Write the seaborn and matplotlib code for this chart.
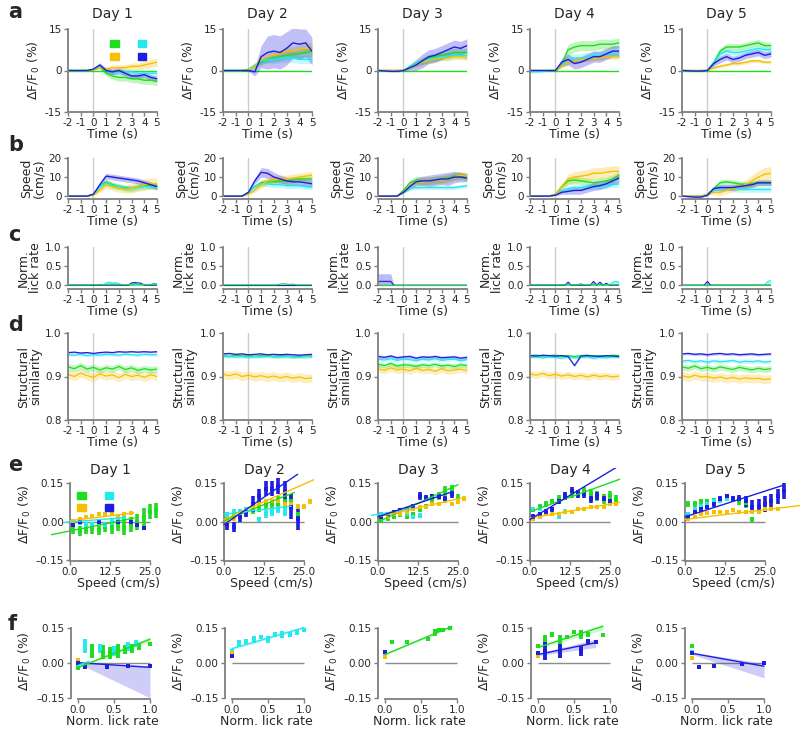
import numpy as np
import matplotlib
matplotlib.use('Agg')
import matplotlib.pyplot as plt
import seaborn as sns
from matplotlib.patches import Patch

sns.set_style('ticks')
plt.rcParams['font.family'] = ['DejaVu Sans']
plt.rcParams['axes.unicode_minus'] = False

GREEN = '#1fdc1f'
CYAN = '#22e8f0'
YELLOW = '#f5c000'
BLUE = '#1e1ee0'
SPINE = '#7f7f7f'

DAYS = ['Day 1', 'Day 2', 'Day 3', 'Day 4', 'Day 5']

# ---------------- row a: dF/F0 (%) vs time ----------------
T = [-2, -1, -0.5, 0, 0.5, 1, 1.5, 2, 2.5, 3, 3.5, 4, 4.5, 5]

dff_green = [
    [0, 0, 0, 0.3, 1.2, -1.0, -2.0, -2.5, -2.5, -3.0, -3.0, -3.5, -3.5, -4.0],
    [0, 0, 0, 0.3, 1.5, 3.0, 4.0, 4.5, 5.0, 5.5, 6.0, 6.0, 6.5, 7.0],
    [0, 0, 0, 0, 1.5, 2.5, 3.5, 4.5, 5.0, 5.5, 6.0, 6.5, 6.5, 6.5],
    [0, 0, 0, 0, 2.5, 7.5, 8.5, 9.0, 9.0, 9.0, 9.5, 9.5, 9.5, 10.0],
    [0, -0.2, 0, 0, 3.0, 7.0, 8.5, 8.5, 8.5, 9.0, 9.5, 10.0, 9.0, 9.0]]
dff_green_sem = [
    [0, 0, 0, 0.2, 0.5, 1.0, 1.2, 1.3, 1.3, 1.4, 1.5, 1.5, 1.5, 1.5],
    [0, 0, 0, 0.2, 0.6, 1.0, 1.2, 1.3, 1.4, 1.5, 1.6, 1.7, 1.8, 1.8],
    [0, 0, 0, 0.2, 0.5, 1.0, 1.2, 1.3, 1.4, 1.5, 1.5, 1.5, 1.5, 1.5],
    [0, 0, 0, 0.2, 1.0, 2.0, 1.8, 1.8, 1.8, 1.8, 1.8, 1.8, 1.8, 1.8],
    [0, 0, 0, 0.2, 1.0, 1.2, 1.2, 1.2, 1.2, 1.2, 1.2, 1.2, 1.2, 1.2]]
dff_cyan = [
    [0, 0, 0, 0.3, 1.5, 0.0, -0.5, -0.5, -0.5, -0.5, -1.0, -1.0, -1.0, -1.0],
    [0, 0, 0, 0.5, 2.0, 3.5, 4.0, 4.0, 4.5, 4.5, 4.5, 4.0, 4.0, 4.0],
    [0, 0, 0, 0, 1.5, 2.5, 3.5, 4.0, 4.5, 5.0, 5.0, 5.5, 5.5, 5.5],
    [-0.5, -0.3, 0, 0, 2.5, 4.0, 4.5, 4.5, 5.0, 5.5, 5.5, 6.0, 6.0, 6.0],
    [0, 0, 0, 0, 3.0, 6.0, 7.0, 6.5, 6.5, 7.0, 7.5, 8.0, 7.5, 7.5]]
dff_cyan_sem = [
    [0, 0, 0, 0.2, 0.5, 0.8, 1.0, 1.0, 1.0, 1.0, 1.0, 1.0, 1.0, 1.0],
    [0, 0, 0, 0.2, 0.8, 1.0, 1.2, 1.5, 1.5, 1.5, 1.5, 1.5, 1.5, 1.5],
    [0, 0, 0, 0.2, 0.8, 1.0, 1.2, 1.2, 1.3, 1.3, 1.3, 1.3, 1.3, 1.3],
    [0.4, 0.3, 0.2, 0.2, 1.0, 1.5, 1.5, 1.5, 1.5, 1.5, 1.5, 1.5, 1.5, 1.5],
    [0, 0, 0, 0.2, 0.8, 1.0, 1.0, 1.0, 1.0, 1.0, 1.0, 1.0, 1.0, 1.0]]
dff_yellow = [
    [0, 0, 0, 0.3, 1.0, 0.5, 1.0, 1.0, 1.0, 1.5, 1.5, 2.0, 2.5, 3.0],
    [0, 0, 0, 0.3, 1.5, 4.0, 5.0, 5.5, 6.0, 7.0, 7.0, 7.5, 8.0, 8.0],
    [0, 0, 0, 0, 1.0, 2.0, 3.0, 3.5, 4.0, 4.5, 4.5, 5.0, 5.0, 4.5],
    [0, 0, 0, 0, 1.5, 3.0, 3.5, 4.0, 4.0, 4.5, 4.5, 5.0, 5.0, 5.0],
    [0, 0, 0, 0, 1.0, 1.5, 2.0, 2.5, 2.5, 3.0, 3.5, 3.5, 3.0, 3.0]]
dff_yellow_sem = [
    [0, 0, 0, 0.2, 0.5, 0.8, 1.0, 1.0, 1.2, 1.2, 1.3, 1.4, 1.5, 1.5],
    [0, 0, 0, 0.2, 0.6, 1.0, 1.2, 1.3, 1.4, 1.5, 1.6, 1.7, 1.8, 2.0],
    [0, 0, 0, 0.2, 0.5, 0.8, 1.0, 1.0, 1.0, 1.0, 1.0, 1.0, 1.0, 1.0],
    [0, 0, 0, 0.2, 0.6, 1.0, 1.0, 1.0, 1.0, 1.0, 1.0, 1.0, 1.0, 1.0],
    [0, 0, 0, 0.2, 0.5, 0.6, 0.6, 0.6, 0.6, 0.6, 0.6, 0.6, 0.6, 0.6]]
dff_blue = [
    [0, 0, 0, 0.5, 2.0, 0.0, -0.5, 0.0, -1.0, -2.0, -2.0, -1.5, -2.5, -3.0],
    [0, 0, 0, 0, -0.5, 5.0, 6.5, 7.0, 6.5, 8.0, 10.0, 9.5, 10.0, 7.0],
    [0, -0.3, -0.3, 0, 1.0, 2.0, 3.5, 5.0, 5.5, 6.5, 7.5, 8.5, 8.0, 9.0],
    [0, 0, 0, 0, 3.0, 4.0, 2.5, 3.0, 4.0, 5.0, 5.0, 6.0, 7.0, 7.0],
    [0, -0.2, -0.2, 0, 2.5, 4.0, 5.0, 4.0, 4.5, 5.5, 6.0, 6.5, 5.5, 6.0]]
dff_blue_sem = [
    [0, 0, 0, 0.3, 0.8, 1.0, 1.0, 1.0, 1.0, 1.0, 1.0, 1.0, 1.0, 1.0],
    [0, 0, 0, 0.3, 1.5, 4.0, 6.0, 6.0, 6.0, 6.0, 5.5, 5.5, 5.0, 5.0],
    [0, 0.2, 0.2, 0.3, 1.0, 2.0, 2.5, 2.5, 2.5, 2.5, 2.5, 2.5, 2.5, 2.5],
    [0.3, 0.2, 0.2, 0.3, 1.5, 2.0, 2.0, 2.0, 2.0, 2.0, 2.0, 2.0, 2.0, 2.0],
    [0, 0.2, 0.2, 0.3, 1.0, 1.2, 1.2, 1.2, 1.2, 1.2, 1.2, 1.2, 1.2, 1.2]]

# ---------------- row b: speed (cm/s) ----------------
spd_green = [
    [0, 0, 0, 1, 5, 7.5, 6, 5, 4.5, 4, 5, 5.5, 5.5, 5.5],
    [0, 0, 0, 2, 5, 7, 7.5, 7.5, 8, 8, 8.5, 9, 9, 9],
    [0, 0, 0, 3, 7, 8.5, 8, 8, 8.5, 9, 9.5, 10.5, 10.5, 10],
    [0, 0, 0, 1, 5, 8, 8.5, 8, 7.5, 7, 7.5, 8, 9, 11],
    [0, 0, 0, 1, 4, 7, 7.5, 7, 6.5, 6, 6.5, 7, 7, 7]]
spd_green_sem = [
    [0, 0, 0, 0.3, 1, 1.5, 1.5, 1.5, 1.5, 1.5, 1.5, 1.5, 1.5, 1.5],
    [0, 0, 0, 0.3, 1, 1.5, 1.5, 1.5, 1.5, 1.5, 1.5, 1.5, 1.5, 1.5],
    [0, 0, 0, 0.5, 1.5, 2, 2, 2, 2, 2, 2, 2, 2, 2],
    [0, 0, 0, 0.5, 1.5, 2, 2, 2, 2, 2, 2, 2, 2, 2],
    [0, 0, 0, 0.3, 1, 1.5, 1.5, 1.5, 1.5, 1.5, 1.5, 1.5, 1.5, 1.5]]
spd_cyan = [
    [0, 0, 0, 1, 5, 7, 5.5, 5, 4, 4, 4.5, 5, 5, 4.5],
    [0, 0, 0, 2, 5, 6.5, 6.5, 6, 6, 5.5, 5.5, 5.5, 5, 5],
    [0, 0, 0, 2, 4, 4.5, 4.5, 4.5, 4.5, 4.5, 4.5, 4.5, 5, 5.5],
    [0, 0, 0, 1, 3, 4, 4.5, 4.5, 5, 5, 5, 5.5, 6, 6.5],
    [0, 0, 0, 0.5, 3, 4, 4.5, 4, 3.5, 3.5, 3.5, 3.5, 3.5, 3.5]]
spd_cyan_sem = [
    [0, 0, 0, 0.3, 1, 1.5, 1.5, 1.5, 1.5, 1.5, 1.5, 1.5, 1.5, 1.5],
    [0, 0, 0, 0.3, 1, 1.5, 1.5, 1.5, 1.5, 1.5, 1.5, 1.5, 1.5, 1.5],
    [0, 0, 0, 0.3, 1, 1, 1, 1, 1, 1, 1, 1, 1, 1],
    [0, 0, 0, 0.3, 1, 1.5, 1.5, 1.5, 1.5, 1.5, 1.5, 1.5, 1.5, 1.5],
    [0, 0, 0, 0.3, 1, 1.5, 1.5, 1.5, 1.5, 1.5, 1.5, 1.5, 1.5, 1.5]]
spd_yellow = [
    [0, 0, 0, 0.5, 3, 6, 5, 4, 3.5, 4, 5, 6, 6.5, 6.5],
    [0, 0, 0, 1, 3, 6, 8, 8.5, 9, 9, 9.5, 10, 10.5, 11],
    [0, 0, 0, 2, 5, 7.5, 7.5, 8, 8.5, 8.5, 9, 10, 11, 10.5],
    [0, 0, 0, 1, 5, 9, 10, 10.5, 11, 12, 12, 12.5, 13, 13],
    [0, 0, 0, 1, 2, 2, 3, 4, 5, 6, 8, 10, 11.5, 12]]
spd_yellow_sem = [
    [0, 0, 0, 0.3, 1, 2, 2, 2, 2, 2.5, 2.5, 3, 3, 3],
    [0, 0, 0, 0.3, 1, 2, 2, 2, 2, 2, 2, 2, 2, 2],
    [0, 0, 0, 0.5, 1.5, 2, 2, 2, 2, 2, 2, 2, 2, 2],
    [0, 0, 0, 0.5, 1.5, 2.5, 3, 3, 3, 3, 3, 3, 3, 3],
    [0, 0, 0, 0.3, 1, 1.5, 1.5, 2, 2, 2.5, 3, 3.5, 3.5, 3.5]]
spd_blue = [
    [0, 0, 0, 1, 6, 10.5, 10, 9.5, 9, 8.5, 8, 7, 6, 5],
    [0, 0, 0, 2, 8, 12.5, 12, 10, 9, 8, 7.5, 7.5, 7, 6.5],
    [0, 0, 0, 2, 5, 7.5, 8, 8, 8.5, 9, 9, 10, 10, 9.5],
    [0, 0, 0, 0.5, 2, 2.5, 3, 3, 4, 5, 5.5, 6.5, 8, 9.5],
    [0, -0.5, -0.5, 0.5, 4, 4.5, 4.5, 4.5, 5, 5.5, 6, 7, 7, 7]]
spd_blue_sem = [
    [0, 0, 0, 0.3, 1, 1.5, 1.5, 1.5, 1.5, 1.5, 1.5, 1.5, 1.5, 1.5],
    [0, 0, 0, 0.5, 1.5, 2.5, 2.5, 2.5, 2, 2, 2, 2, 2, 2],
    [0, 0, 0, 0.5, 1.5, 2, 2.5, 3, 3, 3, 3.5, 3, 2.5, 2],
    [0, 0, 0, 0.3, 1, 1.5, 2, 2, 2, 2, 2, 2, 2, 2],
    [0, 0.3, 0.3, 0.3, 1, 1.5, 1.5, 1.5, 1.5, 1.5, 1.5, 1.5, 1.5, 1.5]]

# ---------------- row c: normalised lick rate ----------------
TL = [-2, -1.75, -1.5, -1.25, -1, -0.75, -0.5, -0.25, 0, 0.25, 0.5, 0.75, 1, 1.25, 1.5,
      1.75, 2, 2.25, 2.5, 2.75, 3, 3.25, 3.5, 3.75, 4, 4.25, 4.5, 4.75, 5]
lick_green = [
    [0.01, 0.01, 0.01, 0.01, 0.01, 0.01, 0.01, 0.01, 0.02, 0.01, 0.02, 0.01, 0.02, 0.02, 0.03,
     0.02, 0.02, 0.02, 0.01, 0.02, 0.01, 0.04, 0.04, 0.01, 0.02, 0.01, 0.02, 0.04, 0.02],
    [0.01, 0.01, 0.01, 0.01, 0.01, 0.01, 0.01, 0.01, 0.01, 0.01, 0.01, 0.01, 0.01, 0.01, 0.01,
     0.01, 0.01, 0.01, 0.03, 0.04, 0.03, 0.02, 0.03, 0.01, 0.01, 0.01, 0.01, 0.01, 0.01],
    [0.01, 0.01, 0.01, 0.01, 0.01, 0.01, 0.01, 0.01, 0.01, 0.01, 0.01, 0.01, 0.01, 0.01, 0.01,
     0.01, 0.01, 0.01, 0.01, 0.01, 0.01, 0.01, 0.01, 0.01, 0.01, 0.01, 0.01, 0.01, 0.01],
    [0.01, 0.01, 0.01, 0.01, 0.01, 0.01, 0.01, 0.01, 0.01, 0.01, 0.01, 0.01, 0.01, 0.01, 0.01,
     0.01, 0.04, 0.01, 0.01, 0.01, 0.01, 0.03, 0.01, 0.01, 0.01, 0.01, 0.01, 0.01, 0.01],
    [0.01, 0.01, 0.01, 0.01, 0.01, 0.01, 0.01, 0.01, 0.01, 0.01, 0.01, 0.01, 0.01, 0.01, 0.01,
     0.01, 0.01, 0.01, 0.01, 0.01, 0.01, 0.01, 0.01, 0.01, 0.01, 0.01, 0.01, 0.01, 0.01]]
lick_cyan = [
    [0, 0, 0, 0, 0, 0, 0, 0, 0, 0, 0, 0, 0.06, 0.08, 0.05, 0.07, 0.04, 0, 0, 0, 0, 0, 0, 0, 0, 0, 0, 0.05, 0.04],
    [0, 0, 0, 0, 0, 0, 0, 0, 0, 0, 0, 0, 0, 0, 0, 0, 0, 0, 0, 0, 0, 0, 0, 0, 0, 0, 0, 0, 0],
    [0, 0, 0, 0, 0, 0, 0, 0, 0, 0, 0, 0, 0, 0, 0, 0, 0, 0, 0, 0, 0, 0, 0, 0, 0, 0, 0, 0, 0],
    [0, 0, 0, 0, 0, 0, 0, 0, 0, 0, 0, 0, 0, 0, 0, 0, 0, 0, 0, 0, 0, 0, 0, 0, 0, 0, 0.08, 0.1, 0.08],
    [0, 0, 0, 0, 0, 0, 0, 0, 0, 0, 0, 0, 0, 0, 0, 0, 0, 0, 0, 0, 0, 0, 0, 0, 0, 0, 0, 0.1, 0.12]]
lick_blue = [
    [0, 0, 0, 0, 0, 0, 0, 0, 0, 0, 0, 0, 0, 0, 0, 0, 0, 0, 0, 0, 0.06, 0.07, 0.06, 0.05, 0, 0, 0, 0, 0],
    [0, 0, 0, 0, 0, 0, 0, 0, 0, 0, 0, 0, 0, 0, 0, 0, 0, 0, 0, 0, 0, 0, 0, 0, 0, 0, 0, 0, 0],
    [0.1, 0.1, 0.1, 0.1, 0.1, 0, 0, 0, 0, 0, 0, 0, 0, 0, 0, 0, 0, 0, 0, 0, 0, 0, 0, 0, 0, 0, 0, 0, 0],
    [0, 0, 0, 0, 0, 0, 0, 0, 0, 0, 0, 0, 0.08, 0, 0, 0, 0, 0, 0, 0, 0.1, 0, 0.08, 0, 0.05, 0, 0, 0, 0],
    [0, 0, 0, 0, 0, 0, 0, 0, 0.1, 0, 0, 0, 0, 0, 0, 0, 0, 0, 0, 0, 0, 0, 0, 0, 0, 0, 0, 0, 0]]
lick_blue_day3_hi = [0.3, 0.3, 0.3, 0.3, 0.3, 0, 0, 0, 0, 0, 0, 0, 0, 0, 0,
                     0, 0, 0, 0, 0, 0, 0, 0, 0, 0, 0, 0, 0, 0]

# ---------------- row d: structural similarity ----------------
TD = [-2, -1.5, -1, -0.5, 0, 0.5, 1, 1.5, 2, 2.5, 3, 3.5, 4, 4.5, 5]
sim_blue = [
    [.955, .956, .954, .955, .953, .955, .956, .955, .957, .956, .957, .956, .957, .956, .957],
    [.952, .953, .951, .952, .950, .951, .952, .950, .951, .950, .951, .950, .949, .950, .951],
    [.946, .944, .947, .943, .945, .946, .942, .945, .944, .946, .943, .944, .945, .942, .944],
    [.948, .947, .949, .948, .947, .948, .946, .925, .947, .948, .947, .946, .948, .947, .946],
    [.952, .953, .951, .952, .950, .952, .953, .951, .952, .950, .951, .952, .950, .951, .952]]
sim_cyan = [
    [.950, .949, .951, .948, .950, .949, .951, .950, .949, .951, .950, .949, .951, .950, .950],
    [.946, .947, .945, .946, .944, .946, .945, .947, .945, .944, .946, .945, .944, .946, .945],
    [.940, .938, .941, .937, .940, .939, .936, .940, .938, .941, .937, .939, .940, .936, .939],
    [.944, .945, .943, .945, .944, .942, .945, .943, .944, .945, .942, .944, .943, .945, .944],
    [.935, .937, .934, .936, .933, .936, .934, .935, .937, .933, .935, .934, .936, .933, .935]]
sim_green = [
    [.922, .918, .925, .917, .921, .915, .920, .917, .923, .916, .920, .914, .918, .915, .917],
    [.948, .946, .949, .947, .948, .946, .948, .947, .946, .948, .947, .945, .947, .946, .947],
    [.928, .925, .930, .924, .927, .926, .923, .927, .925, .928, .924, .926, .923, .927, .925],
    [.948, .949, .947, .948, .949, .947, .948, .946, .948, .949, .947, .948, .947, .949, .948],
    [.922, .919, .924, .918, .921, .917, .922, .919, .916, .921, .918, .915, .919, .916, .918]]
sim_yellow = [
    [.905, .900, .908, .902, .898, .906, .901, .904, .897, .905, .900, .903, .898, .904, .900],
    [.905, .902, .906, .900, .903, .899, .902, .898, .901, .897, .900, .896, .899, .895, .897],
    [.918, .914, .920, .915, .917, .913, .919, .914, .916, .912, .918, .913, .915, .917, .914],
    [.906, .903, .907, .902, .905, .901, .904, .900, .903, .899, .903, .900, .902, .899, .901],
    [.902, .898, .903, .899, .900, .896, .899, .895, .898, .894, .897, .895, .896, .893, .895]]
sim_blue_sem = [0.002, 0.002, 0.004, 0.002, 0.003]
sim_cyan_sem = [0.003, 0.003, 0.004, 0.003, 0.004]
sim_green_sem = [0.008, 0.004, 0.006, 0.003, 0.007]
sim_yellow_sem = [0.010, 0.010, 0.008, 0.008, 0.010]

# ---------------- row e: dF/F0 vs speed (binned) ----------------
SPEED = [1, 3, 5, 7, 9, 11, 13, 15, 17, 19, 21, 23, 25, 27, 29, 31]
nan = np.nan
e_green = [
    [-0.03, -0.035, -0.03, -0.025, -0.03, -0.02, -0.02, -0.015, -0.02, -0.01, 0.0, 0.02, 0.04, 0.045],
    [0.01, 0.02, 0.03, 0.04, 0.05, 0.06, 0.07, 0.07, 0.07, 0.08, 0.08, 0.03],
    [0.005, 0.015, 0.02, 0.03, 0.02, 0.03, 0.05, 0.06, 0.08, 0.10, 0.12, 0.13, 0.09],
    [0.05, 0.06, 0.07, 0.08, 0.09, 0.10, 0.11, 0.11, 0.12, 0.11, 0.10, 0.09, 0.10, 0.09],
    [0.07, 0.07, 0.08, 0.08, 0.085, 0.085, 0.09, 0.09, 0.08, 0.075, 0.01]]
e_green_err = [
    [0.015, 0.02, 0.015, 0.02, 0.02, 0.02, 0.025, 0.02, 0.03, 0.03, 0.03, 0.035, 0.03, 0.03],
    [0.01, 0.015, 0.015, 0.015, 0.02, 0.02, 0.02, 0.02, 0.03, 0.03, 0.03, 0.01],
    [0.008, 0.01, 0.01, 0.01, 0.01, 0.01, 0.01, 0.01, 0.015, 0.015, 0.02, 0.015, 0.02],
    [0.01, 0.01, 0.01, 0.01, 0.015, 0.015, 0.015, 0.015, 0.015, 0.02, 0.02, 0.02, 0.02, 0.015],
    [0.01, 0.01, 0.01, 0.01, 0.01, 0.01, 0.01, 0.01, 0.015, 0.02, 0.01]]
e_cyan = [
    [0.0, -0.005, -0.01, -0.01, -0.005, -0.01, 0.0, 0.005, 0.02],
    [0.03, 0.04, 0.04, 0.05, 0.06, 0.01, 0.03, 0.04, 0.05, 0.04, 0.06],
    [0.03, 0.03, 0.035, 0.035, 0.03, 0.02, 0.025],
    [0.05, 0.05, 0.04, 0.03, 0.02, 0.04],
    [0.03, 0.05, 0.06, 0.07, 0.08, 0.08, 0.09]]
e_cyan_err = [
    [0.008, 0.008, 0.01, 0.01, 0.01, 0.01, 0.01, 0.01, 0.01],
    [0.01, 0.01, 0.01, 0.01, 0.01, 0.01, 0.015, 0.015, 0.015, 0.015, 0.015],
    [0.005, 0.005, 0.005, 0.005, 0.008, 0.008, 0.008],
    [0.008, 0.008, 0.008, 0.008, 0.01, 0.01],
    [0.008, 0.008, 0.008, 0.008, 0.008, 0.008, 0.008]]
e_yellow = [
    [0.005, 0.01, 0.02, 0.025, 0.03, 0.03, 0.03, 0.025, 0.03, 0.035],
    [0.0, 0.01, 0.03, 0.04, 0.06, 0.07, 0.08, 0.08, 0.08, 0.07, 0.07, 0.06, 0.06, 0.08],
    [0.02, 0.02, 0.03, 0.03, 0.04, 0.05, 0.06, 0.06, 0.07, 0.07, 0.08, 0.07, 0.08, 0.09],
    [0.01, 0.02, 0.03, 0.03, 0.03, 0.04, 0.04, 0.05, 0.05, 0.06, 0.06, 0.06, 0.07, 0.07],
    [0.01, 0.02, 0.03, 0.035, 0.04, 0.04, 0.04, 0.045, 0.04, 0.04, 0.04, 0.04, 0.05, 0.05, 0.05]]
e_yellow_err = [
    [0.006, 0.006, 0.006, 0.006, 0.006, 0.006, 0.006, 0.006, 0.006, 0.006],
    [0.008, 0.008, 0.008, 0.008, 0.008, 0.008, 0.008, 0.008, 0.01, 0.01, 0.01, 0.01, 0.01, 0.01],
    [0.005, 0.005, 0.005, 0.005, 0.005, 0.005, 0.005, 0.005, 0.006, 0.006, 0.008, 0.008, 0.01, 0.01],
    [0.005, 0.005, 0.005, 0.005, 0.005, 0.005, 0.005, 0.005, 0.005, 0.005, 0.005, 0.005, 0.005, 0.005],
    [0.005, 0.005, 0.005, 0.005, 0.005, 0.005, 0.005, 0.005, 0.005, 0.005, 0.005, 0.005, 0.005, 0.005, 0.005]]
e_blue = [
    [-0.01, 0.0, nan, nan, 0.0, nan, nan, 0.0, nan, 0.0, -0.01, -0.025],
    [-0.01, -0.02, 0.02, 0.04, 0.07, 0.10, 0.13, 0.13, 0.14, 0.12, 0.06, 0.01],
    [0.02, 0.03, 0.04, 0.045, 0.05, 0.06, 0.10, 0.095, 0.10, 0.10, 0.09, 0.11],
    [0.02, 0.03, 0.04, 0.05, 0.08, 0.10, 0.12, 0.11, 0.11, 0.09, 0.10, 0.09, 0.08],
    [0.02, 0.04, 0.05, 0.06, 0.07, 0.09, 0.10, 0.09, 0.09, 0.08, 0.06, 0.06, 0.07, 0.08, 0.10, 0.12]]
e_blue_err = [
    [0.006, 0.006, 0, 0, 0.006, 0, 0, 0.006, 0, 0.006, 0.008, 0.008],
    [0.02, 0.02, 0.02, 0.02, 0.03, 0.03, 0.03, 0.03, 0.03, 0.04, 0.05, 0.04],
    [0.008, 0.008, 0.008, 0.008, 0.008, 0.01, 0.015, 0.01, 0.01, 0.01, 0.01, 0.015],
    [0.01, 0.01, 0.01, 0.01, 0.01, 0.015, 0.015, 0.015, 0.015, 0.015, 0.015, 0.01, 0.01],
    [0.005, 0.005, 0.01, 0.01, 0.01, 0.01, 0.01, 0.01, 0.015, 0.02, 0.025, 0.03, 0.03, 0.03, 0.03, 0.03]]
# regression lines: (intercept, slope, x start, x end), None when not drawn
e_fit_green = [(-0.035, 0.0025, -6, 20), (0.005, 0.005, 0, 22), (0.0, 0.0058, 0, 25),
               (0.04, 0.0045, 0, 28), None]
e_fit_cyan = [(0.0, 0.001, -2, 17), (0.03, 0.0015, 0, 21), (0.03, 0.002, -2, 12), None, None]
e_fit_yellow = [(0.005, 0.0015, 0, 20), (0.01, 0.0055, 0, 28), (0.02, 0.0028, 0, 26),
                (0.015, 0.0022, 0, 28), (0.01, 0.0015, 0, 36)]
e_fit_blue = [None, (-0.01, 0.0085, 0, 23), (0.02, 0.0042, 0, 23), (0.01, 0.0075, 0, 28),
              (0.02, 0.004, 0, 31)]

# ---------------- row f: dF/F0 vs lick rate ----------------
f_green_x = [[0, 0.2, 0.35, 0.45, 0.55, 0.65, 0.75, 0.85, 1.0], [0],
             [0, 0.1, 0.3, 0.6, 0.7, 0.75, 0.8, 0.9],
             [0, 0.1, 0.2, 0.3, 0.4, 0.5, 0.6, 0.7, 0.9], [0]]
f_green_y = [[-0.02, 0.05, 0.045, 0.04, 0.05, 0.055, 0.06, 0.07, 0.08], [0.045],
             [0.035, 0.09, 0.09, 0.10, 0.13, 0.14, 0.14, 0.15],
             [0.07, 0.10, 0.12, 0.10, 0.11, 0.13, 0.12, 0.12, 0.12], [0.07]]
f_green_err = [[0.01, 0.03, 0.03, 0.025, 0.03, 0.02, 0.02, 0.015, 0.01], [0.005],
               [0.005, 0.002, 0.002, 0.002, 0.015, 0.01, 0.005, 0.005],
               [0.005, 0.02, 0.01, 0.02, 0.01, 0.005, 0.02, 0.01, 0.002], [0.005]]
f_cyan_x = [[0, 0.1, 0.3, 0.5, 0.7, 0.8], [0, 0.1, 0.2, 0.3, 0.4, 0.5, 0.6, 0.7, 0.8, 0.9, 1.0],
            [0], [0], [0]]
f_cyan_y = [[-0.005, 0.07, 0.06, 0.05, 0.07, 0.08],
            [0.05, 0.08, 0.09, 0.10, 0.11, 0.10, 0.12, 0.12, 0.12, 0.13, 0.14],
            [0.04], [0.04], [0.045]]
f_cyan_err = [[0.005, 0.03, 0.02, 0.02, 0.02, 0.015],
              [0.005, 0.015, 0.01, 0.015, 0.01, 0.015, 0.01, 0.015, 0.01, 0.01, 0.01],
              [0.005], [0.005], [0.005]]
f_yellow_x = [[0], [0], [0], [0], [0]]
f_yellow_y = [[0.01], [0.04], [0.025], [0.03], [0.02]]
f_yellow_err = [[0.01], [0.005], [0.005], [0.005], [0.005]]
f_blue_x = [[0, 0.1, 0.4, 0.7, 1.0], [0], [0], [0, 0.1, 0.3, 0.6, 0.7, 0.8],
            [0, 0.1, 0.3, 0.7, 1.0]]
f_blue_y = [[0.0, -0.02, -0.02, -0.015, -0.015], [0.03], [0.045],
            [0.04, 0.05, 0.05, 0.05, 0.09, 0.09], [0.04, -0.02, -0.015, -0.005, 0.0]]
f_blue_err = [[0.005, 0.002, 0.002, 0.002, 0.005], [0.005], [0.005],
              [0.005, 0.04, 0.03, 0.02, 0.01, 0.002], [0.005, 0.002, 0.002, 0.002, 0.005]]
# fit lines: (x start, x end, y start, y end, band low start, band low end, band high start, band high end)
f_fit_green = [(0, 1.0, -0.02, 0.10, -0.025, 0.09, -0.015, 0.11), None,
               (0, 0.93, 0.035, 0.155, 0.032, 0.15, 0.038, 0.16),
               (0, 0.9, 0.065, 0.155, 0.06, 0.14, 0.07, 0.165), None]
f_fit_cyan = [(0, 0.15, -0.012, 0.006, -0.015, 0.003, -0.009, 0.009),
              (0, 1.0, 0.06, 0.15, 0.055, 0.145, 0.065, 0.155), None, None, None]
f_fit_blue = [(0, 1.0, 0.0, -0.02, -0.003, -0.15, 0.002, -0.012), None, None,
              (0, 0.8, 0.035, 0.085, 0.03, 0.065, 0.04, 0.10),
              (0, 1.0, 0.04, -0.015, 0.035, -0.065, 0.045, -0.003)]

# ---------------- layout (pixel positions in an 800x729 canvas) ----------------
W, H = 800, 729
fig = plt.figure(figsize=(8, 7.29), dpi=100)


def px_axes(left, top, width, height):
    return fig.add_axes([left / W, 1 - (top + height) / H, width / W, height / H])


COL_T = [68, 223, 378, 530, 682]       # time panels, x=-2 position
COL_E = [70, 224, 378, 530, 685]       # speed panels, x=0 position
COL_F = [78, 232, 385, 538, 692]       # lick panels, x=0 position
TICK_FS = 7.5
LAB_FS = 9


def style_axes(ax):
    ax.tick_params(labelsize=TICK_FS, length=3, width=1, color=SPINE, pad=1.5)
    for s in ['left', 'bottom']:
        ax.spines[s].set_color(SPINE)
        ax.spines[s].set_linewidth(1.3)
    ax.patch.set_alpha(0)


def trace(ax, x, mean, sem, color, lw=1.0, alpha=0.28):
    lo = [m - s for m, s in zip(mean, sem)]
    hi = [m + s for m, s in zip(mean, sem)]
    ax.fill_between(x, lo, hi, color=color, alpha=alpha, lw=0)
    sns.lineplot(x=x, y=mean, color=color, lw=lw, ax=ax, legend=False)


def time_axes(ax, ylim, yticks, ylabel):
    ax.axvline(0, color='#cccccc', lw=1, zorder=0)
    ax.set_xlim(-2, 5)
    ax.set_ylim(*ylim)
    ax.set_xticks([-2, -1, 0, 1, 2, 3, 4, 5])
    ax.set_yticks(yticks)
    ax.set_xlabel('Time (s)', fontsize=LAB_FS, labelpad=0)
    ax.set_ylabel(ylabel, fontsize=LAB_FS, labelpad=2, linespacing=0.95)
    style_axes(ax)
    sns.despine(ax=ax, trim=True)


def square_legend(ax, anchor):
    handles = [Patch(color=GREEN), Patch(color=YELLOW), Patch(color=CYAN), Patch(color=BLUE)]
    ax.legend(handles, ['', '', '', ''], ncol=2, loc='upper left', bbox_to_anchor=anchor,
              frameon=False, handlelength=0.8, handleheight=0.6, handletextpad=0,
              columnspacing=1.7, labelspacing=0.25, borderaxespad=0, fontsize=8)


DFF_LABEL = r'$\Delta$F/F$_0$ (%)'

for d in range(5):
    # row a
    ax = px_axes(COL_T[d], 29, 89, 83)
    ax.axhline(0, color=GREEN, lw=1, zorder=1)
    for mean, sem, c in [(dff_green, dff_green_sem, GREEN), (dff_cyan, dff_cyan_sem, CYAN),
                         (dff_yellow, dff_yellow_sem, YELLOW), (dff_blue, dff_blue_sem, BLUE)]:
        trace(ax, T, mean[d], sem[d], c)
    time_axes(ax, (-15, 15), [-15, 0, 15], DFF_LABEL)
    ax.set_title(DAYS[d], fontsize=10, pad=8)
    if d == 0:
        square_legend(ax, (0.42, 0.93))

    # row b
    ax = px_axes(COL_T[d], 158, 89, 41)
    for mean, sem, c in [(spd_green, spd_green_sem, GREEN), (spd_cyan, spd_cyan_sem, CYAN),
                         (spd_yellow, spd_yellow_sem, YELLOW), (spd_blue, spd_blue_sem, BLUE)]:
        trace(ax, T, mean[d], sem[d], c)
    time_axes(ax, (-1.5, 20), [0, 10, 20], 'Speed\n(cm/s)')

    # row c
    ax = px_axes(COL_T[d], 247, 89, 42)
    if d == 2:
        ax.fill_between(TL, lick_blue[d], lick_blue_day3_hi, color=BLUE, alpha=0.3, lw=0)
    for vals, c in [(lick_cyan, CYAN), (lick_blue, BLUE), (lick_green, GREEN)]:
        ax.fill_between(TL, 0, vals[d], color=c, alpha=0.35, lw=0)
        sns.lineplot(x=TL, y=vals[d], color=c, lw=0.8, ax=ax, legend=False)
    time_axes(ax, (-0.1, 1.0), [0.0, 0.5, 1.0], 'Norm.\nlick rate')
    ax.set_yticklabels(['0.0', '0.5', '1.0'])

    # row d
    ax = px_axes(COL_T[d], 333, 89, 87)
    for mean, sem, c in [(sim_yellow, sim_yellow_sem, YELLOW), (sim_green, sim_green_sem, GREEN),
                         (sim_cyan, sim_cyan_sem, CYAN), (sim_blue, sim_blue_sem, BLUE)]:
        trace(ax, TD, mean[d], [sem[d]] * len(TD), c, lw=0.9, alpha=0.25)
    time_axes(ax, (0.8, 1.0), [0.8, 0.9, 1.0], 'Structural\nsimilarity')
    ax.set_yticklabels(['0.8', '0.9', '1.0'])

    # row e
    ax = px_axes(COL_E[d] - 6 * 3.2, 468, 42 * 3.2, 92.5)
    ax.hlines(0, 0, 25, color='#8c8c8c', lw=1, zorder=1)
    for vals, errs, fit, c in [(e_green, e_green_err, e_fit_green, GREEN),
                               (e_cyan, e_cyan_err, e_fit_cyan, CYAN),
                               (e_yellow, e_yellow_err, e_fit_yellow, YELLOW),
                               (e_blue, e_blue_err, e_fit_blue, BLUE)]:
        y = vals[d]
        ax.errorbar(SPEED[:len(y)], y, yerr=errs[d], fmt='s', ms=2.6, mew=0, color=c,
                    elinewidth=2.6, capsize=0, zorder=3)
        if fit[d] is not None:
            b0, b1, x0, x1 = fit[d]
            xs = [x0, x1]
            sns.lineplot(x=xs, y=[b0 + b1 * x for x in xs], color=c, lw=1, ax=ax,
                         legend=False, zorder=4)
    ax.set_xlim(-6, 36)
    ax.set_ylim(-0.15, 0.21)
    ax.set_xticks([0, 12.5, 25])
    ax.set_xticklabels(['0.0', '12.5', '25.0'])
    ax.set_yticks([-0.15, 0, 0.15])
    ax.set_yticklabels(['\u20130.15', '0.00', '0.15'])
    ax.set_xlabel('Speed (cm/s)', fontsize=LAB_FS, labelpad=0)
    ax.set_ylabel(DFF_LABEL, fontsize=LAB_FS, labelpad=2)
    style_axes(ax)
    sns.despine(ax=ax, trim=True)
    ax.spines['left'].set_position(('data', 0))
    fig.text((COL_E[d] + 40) / W, 1 - 470 / H, DAYS[d], fontsize=10, ha='center', va='center')
    if d == 0:
        square_legend(ax, (0.16, 0.8))

    # row f
    ax = px_axes(COL_F[d] - 7.2, 624, 1.15 * 72, 75)
    ax.hlines(0, 0, 1, color='#8c8c8c', lw=1, zorder=1)
    for fit, c in [(f_fit_blue, BLUE), (f_fit_green, GREEN), (f_fit_cyan, CYAN)]:
        if fit[d] is not None:
            x0, x1, y0, y1, l0, l1, h0, h1 = fit[d]
            ax.fill_between([x0, x1], [l0, l1], [h0, h1], color=c, alpha=0.22, lw=0)
            sns.lineplot(x=[x0, x1], y=[y0, y1], color=c, lw=1, ax=ax, legend=False, zorder=4)
    for xs, ys, es, c in [(f_green_x, f_green_y, f_green_err, GREEN),
                          (f_cyan_x, f_cyan_y, f_cyan_err, CYAN),
                          (f_yellow_x, f_yellow_y, f_yellow_err, YELLOW),
                          (f_blue_x, f_blue_y, f_blue_err, BLUE)]:
        ax.errorbar(xs[d], ys[d], yerr=es[d], fmt='s', ms=2.4, mew=0, color=c,
                    elinewidth=2.8, capsize=0, zorder=3)
    ax.set_xlim(-0.1, 1.05)
    ax.set_ylim(-0.155, 0.165)
    ax.set_xticks([0, 0.5, 1.0])
    ax.set_xticklabels(['0.0', '0.5', '1.0'])
    ax.set_yticks([-0.15, 0, 0.15])
    ax.set_yticklabels(['\u20130.15', '0.00', '0.15'])
    ax.set_xlabel('Norm. lick rate', fontsize=LAB_FS, labelpad=0)
    ax.set_ylabel(DFF_LABEL, fontsize=LAB_FS, labelpad=2)
    style_axes(ax)
    sns.despine(ax=ax, trim=True)

for letter, y in [('a', 12), ('b', 145), ('c', 235), ('d', 325), ('e', 465), ('f', 624)]:
    fig.text(8 / W, 1 - y / H, letter, fontsize=15, fontweight='bold', va='center', ha='left')

fig.savefig('out.png', dpi=100)
